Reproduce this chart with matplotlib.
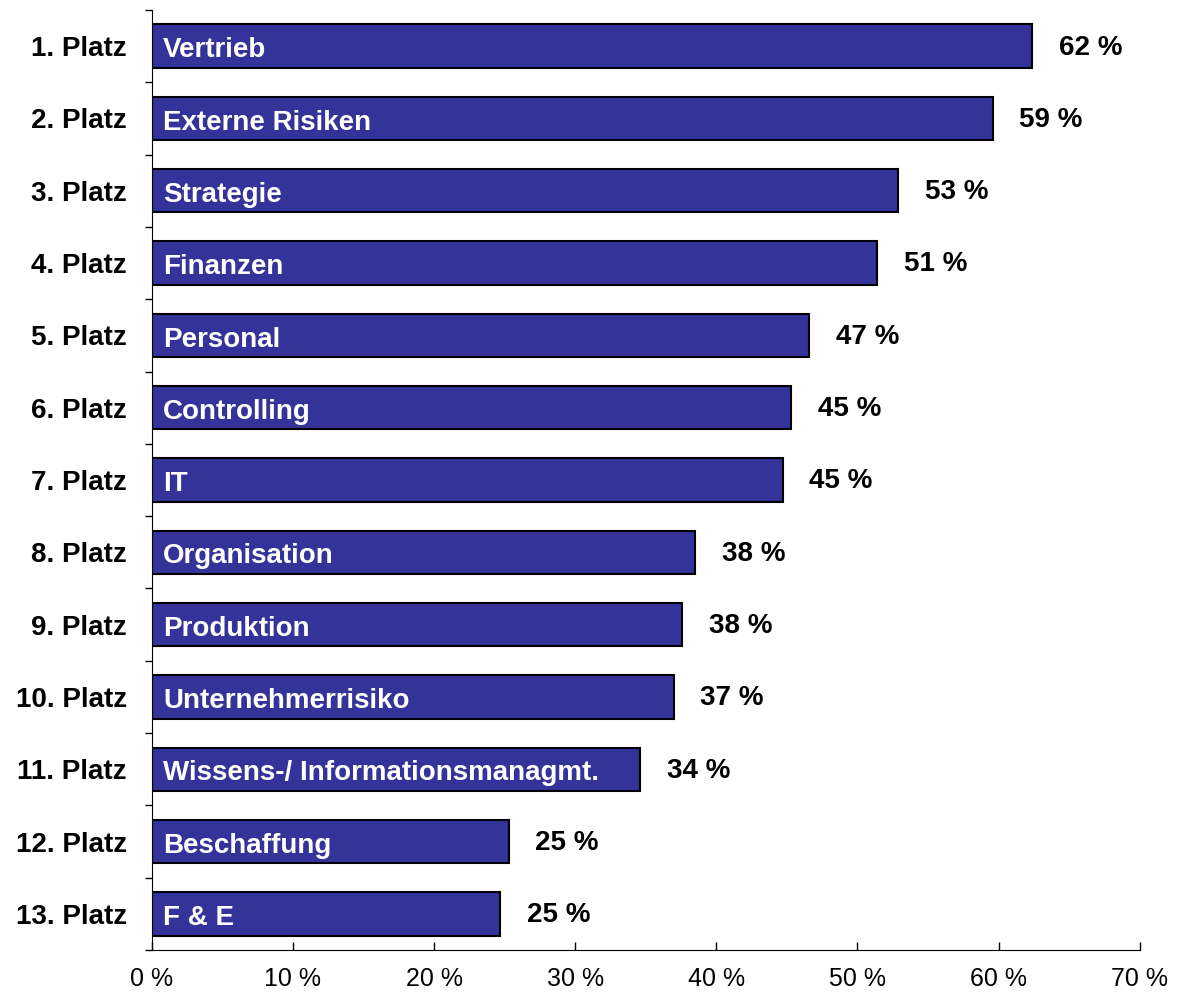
import matplotlib.pyplot as plt
import numpy as np

plt.rcParams['font.family'] = ['Liberation Sans', 'DejaVu Sans']

ranks = ['1. Platz', '2. Platz', '3. Platz', '4. Platz', '5. Platz', '6. Platz', '7. Platz',
         '8. Platz', '9. Platz', '10. Platz', '11. Platz', '12. Platz', '13. Platz']
areas = ['Vertrieb', 'Externe Risiken', 'Strategie', 'Finanzen', 'Personal', 'Controlling', 'IT',
         'Organisation', 'Produktion', 'Unternehmerrisiko', 'Wissens-/ Informationsmanagmt.',
         'Beschaffung', 'F & E']
values = [62.4, 59.6, 52.9, 51.4, 46.6, 45.3, 44.7, 38.5, 37.6, 37.0, 34.6, 25.3, 24.7]
value_labels = ['62 %', '59 %', '53 %', '51 %', '47 %', '45 %', '45 %',
                '38 %', '38 %', '37 %', '34 %', '25 %', '25 %']
xticks = [0, 10, 20, 30, 40, 50, 60, 70]

fig = plt.figure(figsize=(11.86, 9.92), dpi=100)
ax = fig.add_axes([0.128, 0.0423, 0.833, 0.9476])

y = np.arange(len(areas))
ax.barh(y, values, height=0.6, color='#333399', edgecolor='black', linewidth=1.5)

for yi, v, area, lab in zip(y, values, areas, value_labels):
    # category name inside the bar, sitting a bit low like the original
    ax.annotate(area, (0, yi), xytext=(8, -8), textcoords='offset points',
                color='white', fontsize=20, fontweight='bold', va='baseline', ha='left')
    # percentage right of the bar
    ax.annotate(lab, (v, yi), xytext=(19, -6), textcoords='offset points',
                color='black', fontsize=20, fontweight='bold', va='baseline', ha='left')

ax.set_xlim(0, 70)
ax.set_ylim(len(areas) - 0.5, -0.5)

ax.set_xticks(xticks)
ax.set_xticklabels([f'{t} %' for t in xticks], fontsize=18)
ax.tick_params(axis='x', direction='in', length=6, width=1, pad=12)

ax.set_yticks(y)
ax.set_yticklabels(ranks, fontsize=20, fontweight='bold')
ax.tick_params(axis='y', which='major', length=0, pad=18)
ax.set_yticks(np.arange(len(areas) + 1) - 0.5, minor=True)
ax.tick_params(axis='y', which='minor', direction='out', length=5, width=1)

ax.spines['top'].set_visible(False)
ax.spines['right'].set_visible(False)

plt.savefig('out.png', dpi=100)
